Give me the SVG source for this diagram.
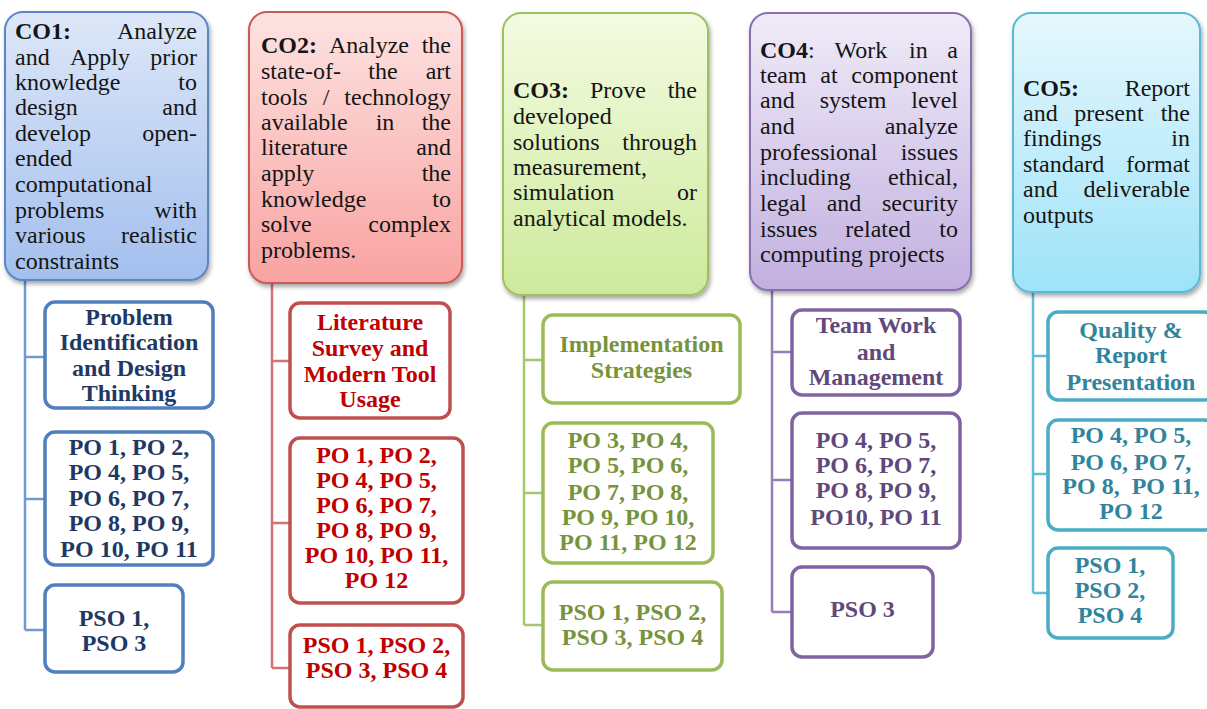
<svg xmlns="http://www.w3.org/2000/svg" width="1207" height="709" viewBox="0 0 1207 709">
  <defs>
    <linearGradient id="gBlue" x1="0" y1="0" x2="0" y2="1">
      <stop offset="0" stop-color="#dde7f8"/>
      <stop offset="1" stop-color="#a3bfee"/>
    </linearGradient>
    <linearGradient id="gRed" x1="0" y1="0" x2="0" y2="1">
      <stop offset="0" stop-color="#fde3e2"/>
      <stop offset="1" stop-color="#f8a3a1"/>
    </linearGradient>
    <linearGradient id="gGreen" x1="0" y1="0" x2="0" y2="1">
      <stop offset="0" stop-color="#f4fbe1"/>
      <stop offset="1" stop-color="#cdea9c"/>
    </linearGradient>
    <linearGradient id="gPurple" x1="0" y1="0" x2="0" y2="1">
      <stop offset="0" stop-color="#f0ebf8"/>
      <stop offset="1" stop-color="#c2b0e0"/>
    </linearGradient>
    <linearGradient id="gCyan" x1="0" y1="0" x2="0" y2="1">
      <stop offset="0" stop-color="#e6f7fd"/>
      <stop offset="1" stop-color="#9de3f8"/>
    </linearGradient>
    <filter id="shadow" x="-10%" y="-10%" width="125%" height="125%">
      <feDropShadow dx="1.5" dy="3" stdDeviation="2" flood-color="#000" flood-opacity="0.35"/>
    </filter>
  </defs>
  <style>
    .co { stroke-width: 2; filter: url(#shadow); }
    .co-text { font-family: "Liberation Serif", "Times New Roman", serif; font-size: 24px; fill: #151515; }
    .co-text .b { font-weight: bold; }
    .e { text-anchor: end; }
    .m { text-anchor: middle; }
    .child { fill: #ffffff; stroke-width: 3.5; }
    .child-text { font-family: "Liberation Serif", "Times New Roman", serif; font-size: 24px; font-weight: bold; text-anchor: middle; }
    .link { fill: none; stroke-width: 2.5; }
  </style>

  <rect width="1207" height="709" fill="#ffffff"/>

  <!-- connectors: one trunk per course outcome, with a branch to each child box -->
  <g id="connectors">
    <path class="link" stroke="#7399d1" d="M25 280 V630 M25 357 H45 M25 499 H45 M25 630 H45"/>
    <path class="link" stroke="#d27471" d="M272 283 V668 M272 361 H290 M272 523 H290 M272 668 H290"/>
    <path class="link" stroke="#a8c66c" d="M524 295 V625 M524 360 H543 M524 493 H543 M524 625 H543"/>
    <path class="link" stroke="#957db8" d="M772 290 V612 M772 352 H792 M772 480 H792 M772 612 H792"/>
    <path class="link" stroke="#64bdd6" d="M1033 292 V593 M1033 356 H1048 M1033 474 H1048 M1033 593 H1048"/>
  </g>

  <!-- CO1 (tspans are written without whitespace between them so anchored words sit flush) -->
  <g id="co1">
    <rect class="co" x="5" y="12" width="203" height="268" rx="18" fill="url(#gBlue)" stroke="#5b87c6"/>
    <text class="co-text"><tspan class="b" x="15" y="39">CO1:</tspan><tspan class="e" x="197" y="39">Analyze</tspan><tspan
      x="15" y="65">and</tspan><tspan class="m" x="100" y="65">Apply</tspan><tspan class="e" x="197" y="65">prior</tspan><tspan
      x="15" y="90">knowledge</tspan><tspan class="e" x="197" y="90">to</tspan><tspan
      x="15" y="115">design</tspan><tspan class="e" x="197" y="115">and</tspan><tspan
      x="15" y="141">develop</tspan><tspan class="e" x="197" y="141">open-</tspan><tspan
      x="15" y="166">ended</tspan><tspan
      x="15" y="192">computational</tspan><tspan
      x="15" y="218">problems</tspan><tspan class="e" x="197" y="218">with</tspan><tspan
      x="15" y="243">various</tspan><tspan class="e" x="197" y="243">realistic</tspan><tspan
      x="15" y="269">constraints</tspan></text>
  </g>
  <g id="co1-area">
    <rect class="child" x="45" y="302" width="168" height="106" rx="10" stroke="#4f7fbf"/>
    <text class="child-text" fill="#1f3864"><tspan x="129" y="325">Problem</tspan><tspan
      x="129" y="350">Identification</tspan><tspan
      x="129" y="376">and Design</tspan><tspan
      x="129" y="401">Thinking</tspan></text>
  </g>
  <g id="co1-po">
    <rect class="child" x="45" y="432" width="168" height="133" rx="10" stroke="#4f7fbf"/>
    <text class="child-text" fill="#1f3864"><tspan x="129" y="455">PO 1, PO 2,</tspan><tspan
      x="129" y="480">PO 4, PO 5,</tspan><tspan
      x="129" y="506">PO 6, PO 7,</tspan><tspan
      x="129" y="531">PO 8, PO 9,</tspan><tspan
      x="129" y="557">PO 10, PO 11</tspan></text>
  </g>
  <g id="co1-pso">
    <rect class="child" x="45" y="585" width="138" height="87" rx="10" stroke="#4f7fbf"/>
    <text class="child-text" fill="#1f3864"><tspan x="114" y="626">PSO 1,</tspan><tspan
      x="114" y="651">PSO 3</tspan></text>
  </g>

  <!-- CO2 -->
  <g id="co2">
    <rect class="co" x="249" y="12" width="213" height="271" rx="18" fill="url(#gRed)" stroke="#c95a57"/>
    <text class="co-text"><tspan class="b" x="261" y="53">CO2:</tspan><tspan x="329" y="53">Analyze</tspan><tspan class="e" x="451" y="53">the</tspan><tspan
      x="261" y="79">state-of-</tspan><tspan class="m" x="383" y="79">the</tspan><tspan class="e" x="451" y="79">art</tspan><tspan
      x="261" y="105">tools</tspan><tspan class="m" x="326" y="105">/</tspan><tspan class="e" x="451" y="105">technology</tspan><tspan
      x="261" y="130">available</tspan><tspan class="m" x="385" y="130">in</tspan><tspan class="e" x="451" y="130">the</tspan><tspan
      x="261" y="155">literature</tspan><tspan class="e" x="451" y="155">and</tspan><tspan
      x="261" y="181">apply</tspan><tspan class="e" x="451" y="181">the</tspan><tspan
      x="261" y="207">knowledge</tspan><tspan class="e" x="451" y="207">to</tspan><tspan
      x="261" y="232">solve</tspan><tspan class="e" x="451" y="232">complex</tspan><tspan
      x="261" y="258">problems.</tspan></text>
  </g>
  <g id="co2-area">
    <rect class="child" x="290" y="303" width="160" height="115" rx="10" stroke="#c0504d"/>
    <text class="child-text" fill="#c00000"><tspan x="370" y="330">Literature</tspan><tspan
      x="370" y="356">Survey and</tspan><tspan
      x="370" y="382">Modern Tool</tspan><tspan
      x="370" y="407">Usage</tspan></text>
  </g>
  <g id="co2-po">
    <rect class="child" x="290" y="438" width="173" height="165" rx="10" stroke="#c0504d"/>
    <text class="child-text" fill="#c00000"><tspan x="376.5" y="463">PO 1, PO 2,</tspan><tspan
      x="376.5" y="488">PO 4, PO 5,</tspan><tspan
      x="376.5" y="513">PO 6, PO 7,</tspan><tspan
      x="376.5" y="538">PO 8, PO 9,</tspan><tspan
      x="376.5" y="563">PO 10, PO 11,</tspan><tspan
      x="376.5" y="588">PO 12</tspan></text>
  </g>
  <g id="co2-pso">
    <rect class="child" x="290" y="625" width="173" height="82" rx="10" stroke="#c0504d"/>
    <text class="child-text" fill="#c00000"><tspan x="376.5" y="653">PSO 1, PSO 2,</tspan><tspan
      x="376.5" y="678">PSO 3, PSO 4</tspan></text>
  </g>

  <!-- CO3 -->
  <g id="co3">
    <rect class="co" x="503" y="13" width="205" height="282" rx="18" fill="url(#gGreen)" stroke="#9fc05f"/>
    <text class="co-text"><tspan class="b" x="513" y="98">CO3:</tspan><tspan class="m" x="618" y="98">Prove</tspan><tspan class="e" x="697" y="98">the</tspan><tspan
      x="513" y="124">developed</tspan><tspan
      x="513" y="150">solutions</tspan><tspan class="e" x="697" y="150">through</tspan><tspan
      x="513" y="175">measurement,</tspan><tspan
      x="513" y="200">simulation</tspan><tspan class="e" x="697" y="200">or</tspan><tspan
      x="513" y="226">analytical models.</tspan></text>
  </g>
  <g id="co3-area">
    <rect class="child" x="543" y="315" width="197" height="88" rx="10" stroke="#9bbb59"/>
    <text class="child-text" fill="#77933c"><tspan x="641.5" y="352">Implementation</tspan><tspan
      x="641.5" y="378">Strategies</tspan></text>
  </g>
  <g id="co3-po">
    <rect class="child" x="543" y="423" width="170" height="140" rx="10" stroke="#9bbb59"/>
    <text class="child-text" fill="#77933c"><tspan x="628" y="448">PO 3, PO 4,</tspan><tspan
      x="628" y="473">PO 5, PO 6,</tspan><tspan
      x="628" y="500">PO 7, PO 8,</tspan><tspan
      x="628" y="525">PO 9, PO 10,</tspan><tspan
      x="628" y="550">PO 11, PO 12</tspan></text>
  </g>
  <g id="co3-pso">
    <rect class="child" x="543" y="582" width="179" height="88" rx="10" stroke="#9bbb59"/>
    <text class="child-text" fill="#77933c"><tspan x="632.5" y="620">PSO 1, PSO 2,</tspan><tspan
      x="632.5" y="645">PSO 3, PSO 4</tspan></text>
  </g>

  <!-- CO4 -->
  <g id="co4">
    <rect class="co" x="750" y="13" width="221" height="277" rx="18" fill="url(#gPurple)" stroke="#8a6fb0"/>
    <text class="co-text"><tspan class="b" x="760" y="58">CO4</tspan><tspan y="58">:</tspan><tspan x="834.5" y="58">Work</tspan><tspan x="909" y="58">in</tspan><tspan class="e" x="958" y="58">a</tspan><tspan
      x="760" y="83">team</tspan><tspan class="m" x="829" y="83">at</tspan><tspan class="e" x="958" y="83">component</tspan><tspan
      x="760" y="108">and</tspan><tspan class="m" x="853" y="108">system</tspan><tspan class="e" x="958" y="108">level</tspan><tspan
      x="760" y="134">and</tspan><tspan class="e" x="958" y="134">analyze</tspan><tspan
      x="760" y="160">professional</tspan><tspan class="e" x="958" y="160">issues</tspan><tspan
      x="760" y="185">including</tspan><tspan class="e" x="958" y="185">ethical,</tspan><tspan
      x="760" y="211">legal</tspan><tspan class="m" x="844" y="211">and</tspan><tspan class="e" x="958" y="211">security</tspan><tspan
      x="760" y="237">issues</tspan><tspan class="m" x="878" y="237">related</tspan><tspan class="e" x="958" y="237">to</tspan><tspan
      x="760" y="262">computing projects</tspan></text>
  </g>
  <g id="co4-area">
    <rect class="child" x="792" y="310" width="168" height="85" rx="10" stroke="#8064a2"/>
    <text class="child-text" fill="#5f497a"><tspan x="876" y="333">Team Work</tspan><tspan
      x="876" y="360">and</tspan><tspan
      x="876" y="385">Management</tspan></text>
  </g>
  <g id="co4-po">
    <rect class="child" x="792" y="413" width="168" height="135" rx="10" stroke="#8064a2"/>
    <text class="child-text" fill="#5f497a"><tspan x="876" y="448">PO 4, PO 5,</tspan><tspan
      x="876" y="473">PO 6, PO 7,</tspan><tspan
      x="876" y="498">PO 8, PO 9,</tspan><tspan
      x="876" y="525">PO10, PO 11</tspan></text>
  </g>
  <g id="co4-pso">
    <rect class="child" x="792" y="567" width="141" height="90" rx="10" stroke="#8064a2"/>
    <text class="child-text" fill="#5f497a"><tspan x="862.5" y="617">PSO 3</tspan></text>
  </g>

  <!-- CO5 -->
  <g id="co5">
    <rect class="co" x="1013" y="13" width="187" height="279" rx="18" fill="url(#gCyan)" stroke="#5cb9d4"/>
    <text class="co-text"><tspan class="b" x="1023" y="96">CO5:</tspan><tspan class="e" x="1190" y="96">Report</tspan><tspan
      x="1023" y="121">and</tspan><tspan class="m" x="1109" y="121">present</tspan><tspan class="e" x="1190" y="121">the</tspan><tspan
      x="1023" y="146">findings</tspan><tspan class="e" x="1190" y="146">in</tspan><tspan
      x="1023" y="172">standard</tspan><tspan class="e" x="1190" y="172">format</tspan><tspan
      x="1023" y="197">and</tspan><tspan class="e" x="1190" y="197">deliverable</tspan><tspan
      x="1023" y="223">outputs</tspan></text>
  </g>
  <g id="co5-area">
    <rect class="child" x="1048" y="312" width="166" height="88" rx="10" stroke="#4bacc6"/>
    <text class="child-text" fill="#31849b"><tspan x="1131" y="338">Quality &amp;</tspan><tspan
      x="1131" y="363">Report</tspan><tspan
      x="1131" y="390">Presentation</tspan></text>
  </g>
  <g id="co5-po">
    <rect class="child" x="1048" y="420" width="166" height="110" rx="10" stroke="#4bacc6"/>
    <text class="child-text" fill="#31849b" xml:space="preserve"><tspan x="1131" y="443">PO 4, PO 5,</tspan><tspan x="1131" y="470">PO 6, PO 7,</tspan><tspan x="1131" y="494">PO 8,  PO 11,</tspan><tspan x="1131" y="519">PO 12</tspan></text>
  </g>
  <g id="co5-pso">
    <rect class="child" x="1048" y="548" width="125" height="90" rx="10" stroke="#4bacc6"/>
    <text class="child-text" fill="#31849b"><tspan x="1110" y="573">PSO 1,</tspan><tspan
      x="1110" y="598">PSO 2,</tspan><tspan
      x="1110" y="623">PSO 4</tspan></text>
  </g>
</svg>
